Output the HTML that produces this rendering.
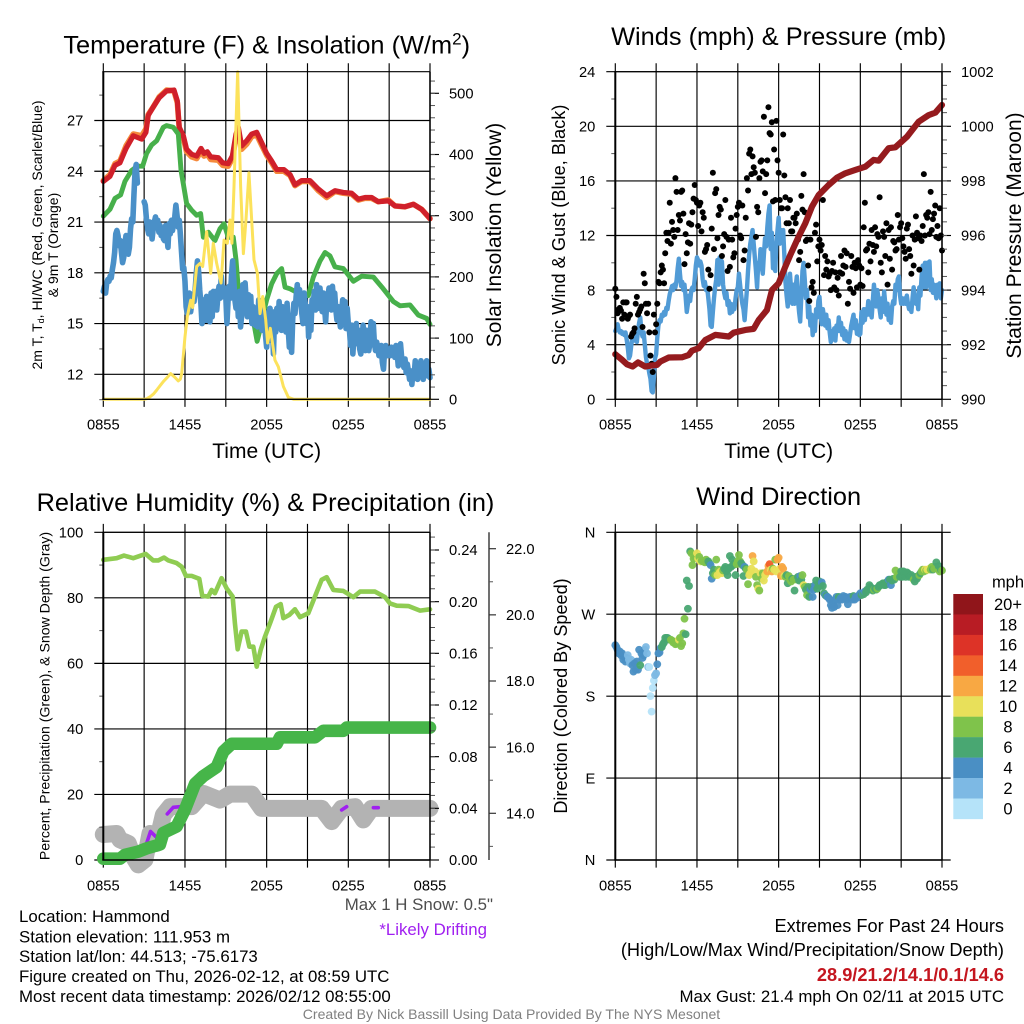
<!DOCTYPE html>
<html>
<head>
<meta charset="utf-8">
<title>Hammond Mesonet Station Meteogram</title>
<style>
html,body{margin:0;padding:0;background:#fff;}
svg{display:block;font-family:"Liberation Sans",Arial,sans-serif;}
.title{font-size:25.35px;text-anchor:middle;fill:#000;}
.axt{font-size:21px;text-anchor:middle;fill:#000;}
.foot{font-size:16.85px;fill:#000;}
.footr{font-size:16.85px;fill:#000;text-anchor:end;}
.footw{font-size:18.2px;fill:#000;text-anchor:end;}
</style>
</head>
<body>
<svg id="chart" xmlns="http://www.w3.org/2000/svg" width="1024" height="1024" viewBox="0 0 1024 1024">
<rect width="1024" height="1024" fill="#fff"/>
<g id="layer-grid"></g>
<g id="layer-data"></g>
<g id="layer-frame"></g>

<text class="title" x="266.7" y="53.5">Temperature (F) &amp; Insolation (W/m<tspan font-size="17" dy="-9">2</tspan><tspan dy="9">)</tspan></text>
<text class="title" x="778.7" y="45">Winds (mph) &amp; Pressure (mb)</text>
<text class="title" x="265.5" y="511">Relative Humidity (%) &amp; Precipitation (in)</text>
<text class="title" x="778.7" y="505">Wind Direction</text>

<text class="axt" x="266.7" y="458">Time (UTC)</text>
<text class="axt" x="778.7" y="458">Time (UTC)</text>

<text transform="translate(42,235) rotate(-90)" font-size="14" text-anchor="middle">2m T, T<tspan font-size="9" dy="2">d</tspan><tspan dy="-2">, HI/WC (Red, Green, Scarlet/Blue)</tspan></text>
<text transform="translate(58,245) rotate(-90)" font-size="14" text-anchor="middle">&amp; 9m T (Orange)</text>
<text class="axt" transform="translate(501,235) rotate(-90)">Solar Insolation (Yellow)</text>
<text class="axt" transform="translate(565,235) rotate(-90)" style="font-size:18.2px">Sonic Wind &amp; Gust (Blue, Black)</text>
<text class="axt" transform="translate(1021,235.5) rotate(-90)">Station Pressure (Maroon)</text>
<text transform="translate(49.5,696) rotate(-90)" font-size="14.1" text-anchor="middle">Percent, Precipitation (Green), &amp; Snow Depth (Gray)</text>
<text class="axt" transform="translate(567,696) rotate(-90)" style="font-size:18.1px">Direction (Colored By Speed)</text>

<text class="foot" x="19" y="922">Location: Hammond</text>
<text class="foot" x="19" y="942.5">Station elevation: 111.953 m</text>
<text class="foot" x="19" y="962">Station lat/lon: 44.513; -75.6173</text>
<text class="foot" x="19" y="982">Figure created on Thu, 2026-02-12, at 08:59 UTC</text>
<text class="foot" x="19" y="1002">Most recent data timestamp: 2026/02/12 08:55:00</text>
<text class="footr" x="493" y="910" style="fill:#4d4d4d">Max 1 H Snow: 0.5"</text>
<text class="footr" x="487" y="935" style="fill:#a020f0">*Likely Drifting</text>
<text class="footw" x="1004" y="932">Extremes For Past 24 Hours</text>
<text class="footw" x="1004" y="956">(High/Low/Max Wind/Precipitation/Snow Depth)</text>
<text class="footw" x="1004" y="981" style="fill:#c4161f;font-weight:bold">28.9/21.2/14.1/0.1/14.6</text>
<text class="footr" x="1004" y="1002">Max Gust: 21.4 mph On 02/11 at 2015 UTC</text>
<text x="511.5" y="1019" text-anchor="middle" font-size="14.05" fill="#808080">Created By Nick Bassill Using Data Provided By The NYS Mesonet</text>
</svg>

<script>
/* ---------- axis labels ---------- */
const xTickHours = [0,3,6,9,12,15,18,21,24];
const xTickLabels = ['0855','','1455','','2055','','0255','','0855'];
const tempTicks = [12,15,18,21,24,27];
const solarTicks = [0,100,200,300,400,500];
const windTicks = [0,4,8,12,16,20,24];
const pressTicks = [990,992,994,996,998,1000,1002];
const rhTicks = [0,20,40,60,80,100];
const precipTicks = [0.00,0.04,0.08,0.12,0.16,0.20,0.24];
const snowTicks = [14,16,18,20,22];
const dirTicks = [0,90,180,270,360];
const dirLabels = ['N','E','S','W','N'];
const speedBins = ['20+','18','16','14','12','10','8','6','4','2','0'];
const speedColors = ['#90151a','#b81c24','#dd3327','#f15f2b','#f8a843','#e8e05a','#7fc34b','#49a772','#4a8fc4','#7db9e4','#b5e3f9'];

/* ---------- temperature panel ---------- */
const tempHours = [0,.49,.86,1.22,1.67,2.2,2.82,3.13,3.3,3.67,4.11,4.65,5.19,5.44,5.58,5.88,6.12,6.49,6.86,7.18,7.4,7.64,7.89,8.45,8.77,9.18,9.48,9.75,9.92,10.16,10.53,10.9,11.27,11.63,12,12.37,12.74,13.27,13.72,14.08,14.57,15.18,15.8,16.41,17.02,17.63,18.25,18.74,19.23,19.71,20.2,20.94,21.43,22.16,22.78,23.39,24];
const t2mF = [23.4,23.7,24.35,24.5,25.35,26.1,25.9,26.3,27.3,27.8,28.35,28.75,28.8,28.15,26.6,26.1,25.3,25.0,24.9,25.35,25.05,25.15,24.85,24.8,24.5,24.45,24.9,26.2,26.6,25.5,25.8,26.2,26.3,25.7,25.05,24.6,24.1,24.1,23.8,23.2,23.45,23.45,22.95,22.55,22.85,22.75,22.7,22.35,22.45,22.45,22.2,22.25,21.95,21.9,22.05,21.75,21.2];
const t9mF = [23.45,23.8,24.45,24.6,25.5,26.2,26.1,26.5,27.35,27.8,28.4,28.8,28.75,28.05,26.5,25.95,25.15,24.85,24.75,25.2,24.9,25.0,24.7,24.65,24.35,24.3,24.75,26.0,26.4,25.3,25.6,26.05,26.15,25.55,24.95,24.5,24.0,24.0,23.75,23.15,23.4,23.4,22.85,22.45,22.8,22.7,22.65,22.3,22.4,22.4,22.2,22.3,21.95,21.9,22.05,21.75,21.2];
const dewHours = [0,.49,.86,1.27,1.59,2.08,2.5,2.89,3.18,3.55,3.92,4.41,4.65,5.14,5.51,5.71,5.88,6.12,6.49,6.86,7.15,7.35,7.71,8.2,8.57,8.87,9.18,9.55,9.75,9.92,10.09,11.02,11.3,11.5,11.76,12,12.37,12.74,13.1,13.35,13.72,14.2,15.06,15.43,15.92,16.29,16.65,17.02,17.63,18.37,18.98,19.84,20.57,21.31,21.8,22.53,23.14,23.76,24];
const dewF = [21.35,21.75,22.4,22.6,23.4,24.05,24.3,24.3,25.05,25.55,25.8,26.6,26.7,26.6,26.2,24.05,23.25,22.1,21.7,21.4,21.5,20.1,20.4,19.9,20.6,20.9,20.1,20.1,18.75,17.0,16.7,15.2,13.95,14.6,15.6,16.4,17.35,17.95,18.25,17.15,17.05,16.85,16.65,17.75,18.7,19.2,19.0,18.35,18.25,17.5,17.8,17.75,17.05,16.3,16.05,16.1,15.5,15.3,14.95];
const hiWcF = [
16.9,17.2,16.8,17.4,17.6,17.5,17.8,17.7,18.2,18.6,19.2,20.3,20.5,20.2,19.6,19.9,19.2,18.6,18.9,19.7,20.2,19.6,19.1,19.5,20.6,21.2,21.0,22.6,24.0,24.4,23.3,null,null,null,null,null,22.2,
22.0,21.2,20.6,20.3,21.0,20.7,20.0,20.6,21.0,21.3,20.9,21.1,20.4,20.8,20.2,20.6,20.0,19.9,20.8,20.2,19.5,20.9,20.3,21.1,20.5,20.9,21.3,22.0,21.4,20.7,21.1,20.2,19.2,18.2,18.3,17.5,
16.0,15.6,16.5,16.8,15.7,16.2,16.6,16.3,17.0,18.0,18.7,18.1,17.0,16.2,15.0,15.6,16.4,15.2,16.6,15.2,16.5,15.1,16.8,15.4,16.9,16.3,16.9,15.8,16.6,17.2,16.5,17.8,16.9,16.6,17.1,16.6,
15.0,16.4,17.2,16.5,17.8,18.7,17.6,16.4,15.9,16.8,15.4,16.9,14.8,15.5,17.3,15.8,17.4,16.3,15.4,16.7,15.9,16.6,15.0,16.0,15.2,14.9,15.6,14.8,16.4,15.3,16.0,14.6,14.9,15.7,14.3,13.6,
14.8,14.0,15.9,14.4,15.2,13.2,15.7,14.5,15.9,14.9,16.3,15.0,14.6,16.0,14.7,15.8,14.5,16.2,14.7,13.6,14.5,13.3,15.3,16.2,15.6,16.6,17.3,16.4,17.0,16.3,15.6,15.0,16.8,16.2,15.0,16.0,
14.2,15.2,14.6,16.4,16.0,16.9,15.8,17.3,16.4,15.9,17.1,16.2,15.7,16.8,16.0,15.1,16.3,16.6,17.1,16.5,15.8,17.2,16.4,16.8,15.8,15.2,16.0,15.4,14.8,15.6,16.4,15.2,16.3,14.7,15.9,15.0,
14.6,13.7,14.9,13.2,14.3,13.8,15.0,14.0,14.6,13.5,13.2,13.8,14.9,14.2,13.4,14.6,14.0,13.4,13.8,15.1,14.2,15.0,13.8,13.4,13.9,13.6,13.1,13.4,13.7,12.7,12.3,13.5,13.7,13.1,13.5,13.3,
13.1,13.6,13.2,13.5,13.0,13.7,13.3,12.5,13.2,13.8,13.0,12.7,12.4,12.9,12.1,12.6,12.2,11.7,12.2,11.4,12.1,11.9,12.8,12.1,11.7,12.5,12.0,12.8,12.2,11.7,12.6,12.0,12.8,11.9,12.3,11.8];
const solarHours = [0,3,3.2,3.43,3.7,3.92,4.2,4.41,4.75,4.95,5.25,5.51,5.66,5.76,6.0,6.17,6.42,6.56,6.86,7.1,7.3,7.59,7.89,8.08,8.33,8.65,8.87,9.11,9.31,9.45,9.6,9.87,10.09,10.29,10.48,10.7,10.9,11.07,11.32,11.51,11.71,11.93,12.07,12.27,12.61,12.86,13.23,13.6,14,24];
const solarWm2 = [0,0,1,4,9,15,23,29,37,42,36,30,33,42,102,135,162,150,217,222,217,274,206,255,222,190,260,255,293,255,347,535,347,238,293,370,293,228,206,140,168,130,92,116,64,53,21,3,0,0];

/* ---------- wind panel ---------- */
const windMph = [
5.0,5.2,5.5,5.1,4.9,5.0,4.8,4.9,4.7,4.9,4.4,3.8,3.0,3.2,3.9,4.6,5.0,4.3,4.9,4.2,5.0,5.6,6.0,5.0,4.6,4.9,4.0,3.1,2.6,2.4,1.9,1.5,0.6,0.5,1.6,3.0,3.3,
4.5,5.4,5.8,5.7,6.2,6.1,6.4,6.2,6.7,6.6,7.2,7.7,8.0,8.3,8.0,8.4,8.2,8.7,9.6,10.3,9.2,8.3,8.6,8.0,8.4,7.5,6.4,7.0,7.6,7.2,8.0,8.2,8.0,8.8,9.8,10.4,
10.2,9.8,10.1,9.8,8.8,8.3,8.6,8.0,8.2,7.4,6.6,5.4,5.3,6.4,7.4,8.2,8.8,10.2,8.4,10.4,10.2,10.1,8.4,7.8,7.4,7.8,6.9,7.2,6.3,7.0,6.4,6.9,6.6,7.4,8.0,8.2,
9.2,8.4,7.6,7.0,6.6,5.8,6.9,8.0,9.4,10.6,11.4,11.9,12.4,11.4,10.4,9.4,8.2,10.0,9.6,11.0,9.8,9.2,10.6,11.8,11.2,12.6,13.6,14.2,11.0,12.2,9.6,10.8,9.4,11.4,12.4,13.3,
11.4,12.4,12.0,12.4,10.6,8.6,7.6,6.8,8.4,9.2,8.0,7.0,8.4,7.0,8.2,9.0,7.4,6.4,5.7,7.6,9.4,10.0,8.8,7.4,8.0,6.0,6.8,5.4,6.2,4.7,5.8,5.0,6.6,6.0,7.2,7.5,
6.2,5.5,6.6,6.0,5.4,6.2,5.2,5.8,4.9,4.2,5.0,4.4,5.2,4.3,5.4,5.0,6.0,5.0,5.6,4.7,5.2,4.4,5.0,4.3,4.8,4.2,4.8,5.4,5.8,6.2,5.2,5.8,4.8,5.4,4.7,4.8,
6.4,5.6,6.6,5.8,6.6,6.2,7.2,6.2,7.0,6.0,7.2,8.4,7.6,6.8,8.0,7.4,6.6,6.0,7.4,6.4,7.9,7.0,6.2,7.0,5.8,6.6,5.6,6.8,7.2,7.0,8.4,8.0,8.8,9.0,7.6,7.0,
7.4,7.0,7.4,7.0,7.6,7.0,6.6,6.9,6.4,7.4,8.2,7.6,7.0,7.6,6.6,8.2,7.6,9.0,9.8,8.2,10.0,8.2,10.0,10.0,10.1,8.0,8.8,7.8,8.4,8.0,7.4,8.4,7.8,8.5,7.4,8.0];
const gustMph = [
8.1,7.5,6.3,6.6,6.7,6.5,5.9,7.1,6.2,7.1,7.1,5.9,6.1,6.2,4.6,4.8,4.9,5.2,7.0,7.5,6.2,6.4,6.6,6.8,5.3,9.2,8.5,7.0,6.3,7.0,4.9,3.2,2.6,2.0,6.2,4.9,5.5,
7.0,8.6,8.5,9.3,9.8,9.5,8.5,10.7,12.2,11.6,12.2,14.4,11.4,13.0,12.4,11.9,16.2,15.2,12.4,13.5,13.1,15.2,15.3,13.6,9.9,12.1,10.7,11.5,12.9,11.4,12.8,13.7,14.7,15.7,14.6,14.4,
12.7,14.2,14.4,12.3,13.7,13.3,10.8,11.0,11.3,9.5,8.1,9.1,12.5,16.6,11.0,15.1,15.4,11.8,13.5,14.1,13.9,10.5,11.2,12.1,14.6,11.9,9.4,11.7,9.7,13.3,11.7,10.4,10.7,12.5,13.5,14.1,
14.4,12.0,11.8,14.2,10.2,10.9,13.3,16.2,15.3,18.0,18.3,16.5,17.8,17.0,16.6,11.9,14.1,13.7,16.2,17.4,17.5,16.7,20.7,15.1,16.5,17.5,21.4,19.5,19.4,20.3,14.5,18.3,14.6,20.4,17.5,16.6,
14.6,14.0,14.0,19.4,16.4,14.8,12.9,14.0,12.9,14.6,12.3,12.3,13.3,13.3,12.9,13.6,11.7,10.2,10.8,14.9,13.9,16.5,13.7,11.6,11.7,9.8,7.2,11.7,8.2,8.6,7.8,12.2,12.8,10.1,11.2,11.7,
10.9,11.3,14.6,9.1,10.5,9.5,10.1,9.0,9.2,8.0,9.4,10.0,8.2,9.3,8.0,8.9,7.6,9.3,10.5,9.2,9.8,10.9,9.7,10.7,7.0,8.6,8.1,10.5,9.7,7.8,10.0,9.6,8.2,10.2,9.8,8.4,
9.6,8.3,12.6,14.4,10.9,11.0,9.3,11.4,10.1,12.4,11.3,10.8,12.6,11.2,12.1,11.9,14.8,10.0,9.3,12.3,11.9,10.5,12.9,8.4,12.4,10.3,12.6,9.5,11.6,11.5,10.9,11.0,13.5,11.7,12.6,12.9,
11.8,11.2,10.8,10.3,12.5,12.8,11.0,10.5,9.2,12.0,9.8,11.7,13.4,12.2,11.8,9.5,12.0,11.6,12.7,16.5,12.0,13.5,13.3,13.7,12.1,15.2,12.4,13.2,13.6,14.2,11.9,12.7,11.8,14.0,12.0,10.9];
const pressHours = [0,.49,.86,1.27,1.67,2.2,2.57,3.06,3.3,3.92,4.9,5.39,5.63,6.12,6.61,7.35,8.33,8.69,9.55,10.16,10.53,11.14,11.51,12,12.49,12.86,13.47,13.96,14.45,14.94,15.67,16.29,16.9,17.63,18.37,18.98,19.35,20.08,20.57,21.43,22.29,23.02,23.51,24];
const pressMb = [991.65,991.45,991.28,991.2,991.35,991.2,991.23,991.26,991.38,991.53,991.54,991.62,991.78,991.87,992.17,992.36,992.3,992.44,992.54,992.58,992.9,993.27,994,994.25,994.86,995.29,995.96,996.45,997.06,997.48,997.85,998.12,998.28,998.4,998.52,998.77,998.74,999.2,999.23,999.62,1000.17,1000.41,1000.5,1000.78];

/* ---------- humidity panel ---------- */
const rhHours = [0,.98,1.52,2.2,3.11,3.67,4.04,4.46,4.78,5.39,5.76,6.07,6.49,7.05,7.27,7.71,7.96,8.2,8.69,9.06,9.5,9.67,9.87,10.16,10.48,10.73,11.02,11.27,11.56,11.88,12.29,12.69,13.03,13.23,13.67,14.08,14.45,15.06,15.55,16.04,16.41,16.9,17.63,18.37,18.86,19.96,20.7,21.06,21.55,22.41,23.27,24];
const rhPct = [91.6,92.1,92.9,92.1,93.4,91.4,91.4,92.3,91.4,90.6,89.5,86.7,86.7,85.8,80.6,80.4,82.4,81.4,86,82.9,80.4,72.2,64.3,69.7,69.7,65.1,65.1,59,64.1,68.2,72.7,77.3,78.1,73.8,74.8,76.5,74.1,75.3,80.4,85.5,86.3,82.4,82.1,80.2,81.9,81.9,80.2,78.3,77.6,77.5,76.1,76.5];
const precipHours = [0,1.22,1.59,2.57,3.18,4.16,4.41,5.39,6,6.74,7.35,8.33,8.82,9.43,12.74,12.98,15.55,16.16,17.63,17.88,24];
const precipIn = [.001,.001,.004,.0065,.009,.012,.021,.026,.039,.059,.065,.072,.084,.09,.09,.095,.095,.1,.1,.1025,.1025];
const snowHours = [0,.98,1.22,1.84,2.2,2.57,3.06,3.43,3.92,4.41,4.9,6.49,7.35,8.57,9.31,10.9,11.63,16.04,16.78,17.51,18.49,19.1,19.71,24];
const snowIn = [13.36,13.39,13.2,13.09,12.69,12.44,12.6,13.39,13.09,13.95,14.2,14.2,14.6,14.4,14.58,14.58,14.15,14.15,13.75,14.15,14.2,13.8,14.15,14.15];
const driftHours = [3.18,3.47,3.87,null,4.7,5.14,5.63,null,17.51,17.88,null,19.84,20.2];
const driftIn = [13.09,13.45,13.29,null,13.98,14.18,14.2,null,14.1,14.2,null,14.17,14.17];

/* ---------- direction panel ---------- */
const dirDeg = [
236,234,231,227,229,225,227,220,223,218,222,225,220,216,220,214,207,216,209,218,209,231,214,227,222,225,231,234,227,212,212,180,163,189,197,203,205,
215,227,228,233,234,237,239,244,244,244,243,242,242,241,239,240,237,238,240,242,244,235,238,249,265,248,307,276,301,339,337,324,331,333,335,337,
331,333,328,329,328,328,327,330,328,328,326,324,309,315,319,313,330,313,319,316,317,315,318,320,322,317,313,320,334,322,330,324,326,313,325,328,
335,328,326,324,312,322,320,319,303,313,315,320,334,328,317,311,302,298,296,315,309,315,307,313,315,317,323,325,319,317,320,319,330,317,330,332,
320,312,322,320,312,311,313,304,312,308,306,309,308,296,309,308,311,307,312,308,313,302,300,297,291,300,289,297,300,289,297,302,307,298,302,306,
301,305,301,293,291,290,289,288,286,280,277,282,278,286,289,280,289,286,288,286,290,288,289,286,281,288,289,289,286,290,286,289,288,290,291,293,
291,293,292,295,294,297,297,302,300,297,296,297,298,297,298,300,302,302,303,304,302,302,305,306,308,308,302,307,309,308,318,311,312,315,311,317,
311,317,315,311,316,315,311,312,313,311,308,306,311,309,312,313,315,317,319,317,319,318,319,319,320,319,322,319,320,322,327,320,323,317,319,318];

/* ---------- panel geometry (plot frames) ---------- */
const P1 = {l:103.3,r:430,t:71.7,b:399.3};
const P2 = {l:615.3,r:942,t:71.7,b:399.3};
const P3 = {l:103.3,r:430,t:532.3,b:860};
const P4 = {l:615.3,r:942,t:532.3,b:860};

const NS = 'http://www.w3.org/2000/svg';
const gridLayer = document.getElementById('layer-grid');
const dataLayer = document.getElementById('layer-data');
const frameLayer = document.getElementById('layer-frame');

function make(parent, tag, geom){
  const e = document.createElementNS(NS, tag);
  for (const k in geom) e.setAttribute(k, geom[k]);
  parent.appendChild(e);
  return e;
}
function linear(d0,d1,r0,r1){ return v => r0 + (v-d0)/(d1-d0)*(r1-r0); }
function xAxis(p){ return linear(0,24,p.l,p.r); }

function pathOf(xs, ys, fx, fy){
  let d = '', pen = false;
  for (let i=0;i<ys.length;i++){
    if (ys[i]===null || xs[i]===null){ pen=false; continue; }
    d += (pen?'L':'M') + fx(xs[i]).toFixed(2) + ' ' + fy(ys[i]).toFixed(2);
    pen = true;
  }
  return d;
}
function fiveMinHours(arr){ return arr.map((_,i)=>i*5/60); }

function drawXAxis(p, fx){
  xTickHours.forEach((h,i)=>{
    const ln = make(gridLayer,'line',{x1:fx(h),x2:fx(h),y1:p.t-8.4,y2:p.b+7.6,stroke:'#000','stroke-width':1.15});
    
    
    if (xTickLabels[i]){
      const t = make(frameLayer,'text',{x:fx(h),y:p.b+30.3,'font-size':14.7,'text-anchor':'middle'});
      t.textContent = xTickLabels[i];
      
      
    }
  });
}
function drawLeftTicks(p, vals, labels, fy, rightExt){
  vals.forEach((v,i)=>{
    const ln = make(gridLayer,'line',{x1:p.l-9,x2:p.r+rightExt,y1:fy(v),y2:fy(v),stroke:'#000','stroke-width':1.15});
    
    
    const t = make(frameLayer,'text',{x:p.l-20,y:fy(v)+5.2,'font-size':14.7,'text-anchor':'end'});
    t.textContent = labels[i];
    
    
  });
}
function drawRightTicks(p, vals, labels, fy){
  vals.forEach((v,i)=>{
    const ln = make(frameLayer,'line',{x1:p.r,x2:p.r+9,y1:fy(v),y2:fy(v),stroke:'#000','stroke-width':1.15});
    
    
    const t = make(frameLayer,'text',{x:p.r+19,y:fy(v)+5.2,'font-size':14.7});
    t.textContent = labels[i];
    
    
  });
}
function minorTicks(x0, x1, vals, fy){
  vals.forEach(v=>{
    const ln = make(frameLayer,'line',{x1:x0,x2:x1,y1:fy(v),y2:fy(v),stroke:'#555','stroke-width':1});
    
    
  });
}
function drawFrame(p){
  const geoms = [
    {x1:p.l,x2:p.l,y1:p.t,y2:p.b,'stroke-width':2},
    {x1:p.r,x2:p.r,y1:p.t,y2:p.b,'stroke-width':1.5},
    {x1:p.l-1,x2:p.r,y1:p.t,y2:p.t,'stroke-width':1.15},
    {x1:p.l-1,x2:p.r,y1:p.b,y2:p.b,'stroke-width':1.4}
  ];
  geoms.forEach(g=>{
    g.stroke = '#000';
    const ln = make(frameLayer,'line',g);
    
    
  });
}
function seriesLine(d, color, width){
  return make(dataLayer,'path',{d:d,fill:'none',stroke:color,'stroke-width':width,'stroke-linejoin':'round','stroke-linecap':'round'});
}
function steps(a,b,s){ const o=[]; for(let v=a;v<=b+1e-9;v+=s) o.push(v); return o; }

/* ---------- panel 1: temperature & insolation ---------- */
(function(){
  const p = P1, fx = xAxis(p);
  const yT = linear(12,27,374.3,120.5);
  const yS = linear(0,500,p.b,93.3);
  drawXAxis(p,fx);
  drawLeftTicks(p,tempTicks,tempTicks.map(String),yT,0);
  drawRightTicks(p,solarTicks,solarTicks.map(String),yS);
  minorTicks(p.l-4,p.l,steps(10.5,28.5,3),yT);
  minorTicks(p.r,p.r+5,steps(20,520,20),yS);

  const s9 = seriesLine(pathOf(tempHours,t9mF,fx,yT),'#f58a3c',5.6);
  
  
  const s2 = seriesLine(pathOf(tempHours,t2mF,fx,yT),'#d0202a',5.2);
  
  
  const sd = seriesLine(pathOf(dewHours,dewF,fx,yT),'#47b04b',4.9);
  
  
  const sw = seriesLine(pathOf(fiveMinHours(hiWcF),hiWcF,fx,yT),'#4a90c8',5.6);
  
  
  const ss = seriesLine(pathOf(solarHours,solarWm2,fx,yS),'#fce25b',3);
  
  
  drawFrame(p);
})();

/* ---------- panel 2: winds & pressure ---------- */
(function(){
  const p = P2, fx = xAxis(p);
  const yW = linear(0,24,p.b,p.t);
  const yP = linear(990,1002,p.b,p.t);
  drawXAxis(p,fx);
  drawLeftTicks(p,windTicks,windTicks.map(String),yW,0);
  drawRightTicks(p,pressTicks,pressTicks.map(String),yP);
  minorTicks(p.l-4,p.l,steps(2,22,4),yW);
  minorTicks(p.r,p.r+5,steps(990.5,1001.5,.5),yP);

  const sw = seriesLine(pathOf(fiveMinHours(windMph),windMph,fx,yW),'#519bd6',4.4);
  
  
  gustMph.forEach((g,i)=>{
    const c = make(dataLayer,'circle',{cx:fx(i*5/60),cy:yW(g),r:3,fill:'#000'});
    
    
  });
  const sp = seriesLine(pathOf(pressHours,pressMb,fx,yP),'#951b1e',6.2);
  
  
  drawFrame(p);
})();

/* ---------- panel 3: humidity, precipitation & snow ---------- */
(function(){
  const p = P3, fx = xAxis(p);
  const yR = linear(0,100,p.b,p.t);
  const yPr = linear(0,0.24,p.b,550);
  const yS = linear(14,22,813.3,548.7);
  drawXAxis(p,fx);
  drawLeftTicks(p,rhTicks,rhTicks.map(String),yR,0);
  drawRightTicks(p,precipTicks,precipTicks.map(v=>v.toFixed(2)),yPr);
  minorTicks(p.l-4,p.l,steps(10,90,20),yR);
  minorTicks(p.r,p.r+5,steps(0.01,0.25,0.01),yPr);

  const ax = make(frameLayer,'line',{x1:489,x2:489,y1:p.t,y2:p.b,stroke:'#333','stroke-width':1.4});
  
  
  snowTicks.forEach(v=>{
    const ln = make(frameLayer,'line',{x1:489,x2:496,y1:yS(v),y2:yS(v),stroke:'#333','stroke-width':1.2});
    
    
    const t = make(frameLayer,'text',{x:506,y:yS(v)+5.2,'font-size':14.7});
    t.textContent = v.toFixed(1);
    
    
  });
  minorTicks(489,493,steps(13,21,2),yS);

  const sr = seriesLine(pathOf(rhHours,rhPct,fx,yR),'#8fcc52',4.6);
  
  
  const sn = seriesLine(pathOf(snowHours,snowIn,fx,yS),'#b3b3b3',17);
  
  
  const dr = seriesLine(pathOf(driftHours,driftIn,fx,yS),'#a020f0',3.6);
  
  
  const pr = seriesLine(pathOf(precipHours,precipIn,fx,yPr),'#46b549',12.6);
  
  
  drawFrame(p);
})();

/* ---------- panel 4: wind direction ---------- */
(function(){
  const p = P4, fx = xAxis(p);
  const yD = linear(0,360,p.b,p.t);
  drawXAxis(p,fx);
  drawLeftTicks(p,dirTicks,dirLabels,yD,8.7);
  function colorFor(speed){
    const bin = Math.min(10, Math.floor(speed/2));
    return speedColors[10-bin];
  }
  dirDeg.forEach((d,i)=>{
    const c = make(dataLayer,'circle',{cx:fx(i*5/60),cy:yD(d),r:3.9,fill:colorFor(windMph[i]),'fill-opacity':.95});
    
    
  });
  drawFrame(p);

  /* colour legend */
  const top = 594, h = 20.45;
  const head = make(frameLayer,'text',{x:1008,y:587.5,'font-size':16.5,'text-anchor':'middle'});
  head.textContent = 'mph';
  
  
  speedBins.forEach((b,i)=>{
    const r = make(frameLayer,'rect',{x:953.3,y:top+i*h,width:29.7,height:h+.2,fill:speedColors[i]});
    
    
    const t = make(frameLayer,'text',{x:1008,y:top+i*h+h/2+5.6,'font-size':16.5,'text-anchor':'middle'});
    t.textContent = b;
    
    
  });
})();
</script>
</body>
</html>
